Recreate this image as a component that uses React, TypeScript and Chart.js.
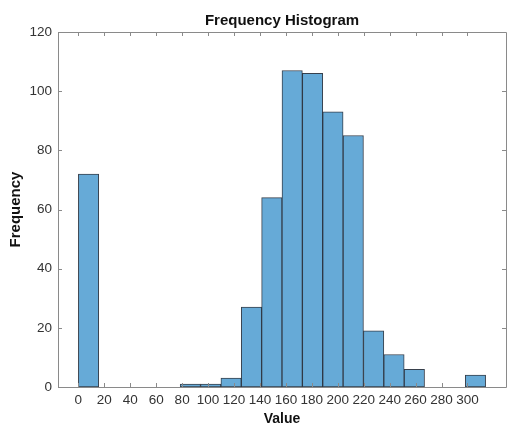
import React, { useEffect, useRef } from "react";
import { Chart, registerables } from "chart.js";

Chart.register(...registerables);

const binWidth = 15.7;
const binStarts = [0, 15.7, 31.4, 47.1, 62.8, 78.5, 94.2, 109.9, 125.6, 141.3, 157, 172.7, 188.4, 204.1, 219.8, 235.5, 251.2, 266.9, 282.6, 298.3];
const counts = [72, 0, 0, 0, 0, 1, 1, 3, 27, 64, 107, 106, 93, 85, 19, 11, 6, 0, 0, 4];
const xTicks = [0, 20, 40, 60, 80, 100, 120, 140, 160, 180, 200, 220, 240, 260, 280, 300];
const yTicks = [0, 20, 40, 60, 80, 100, 120];

const titleText = "Frequency Histogram";
const xLabel = "Value";
const yLabel = "Frequency";

const FONT = "'Liberation Sans', Arial, Helvetica, sans-serif";
const AXIS_COLOR = "#8a8a8a";
const TEXT_COLOR = "#333333";

const boxPlugin = {
  id: "matlabBox",
  afterDraw(chart: any) {
    const { ctx, chartArea } = chart;
    const { left, right, top, bottom } = chartArea;
    const xs = chart.scales.x;
    const ys = chart.scales.y;
    ctx.save();
    ctx.strokeStyle = AXIS_COLOR;
    ctx.lineWidth = 1;
    ctx.beginPath();
    ctx.rect(Math.round(left) + 0.5, Math.round(top) + 0.5, Math.round(right - left), Math.round(bottom - top));
    ctx.stroke();
    const tl = 4;
    ctx.beginPath();
    for (const v of xTicks) {
      const px = Math.round(xs.getPixelForValue(v)) + 0.5;
      ctx.moveTo(px, bottom);
      ctx.lineTo(px, bottom - tl);
      ctx.moveTo(px, top);
      ctx.lineTo(px, top + tl);
    }
    for (const v of yTicks) {
      const py = Math.round(ys.getPixelForValue(v)) + 0.5;
      ctx.moveTo(left, py);
      ctx.lineTo(left + tl, py);
      ctx.moveTo(right, py);
      ctx.lineTo(right - tl, py);
    }
    ctx.stroke();

    ctx.fillStyle = "#111111";
    ctx.textAlign = "center";
    ctx.textBaseline = "middle";
    const cx = (left + right) / 2;
    ctx.font = `bold 15px ${FONT}`;
    ctx.fillText(titleText, cx, 21);
    ctx.font = `bold 14px ${FONT}`;
    ctx.fillText(xLabel, cx, 419);
    ctx.save();
    ctx.font = `bold 15px ${FONT}`;
    ctx.translate(16, (top + bottom) / 2);
    ctx.rotate(-Math.PI / 2);
    ctx.fillText(yLabel, 0, 0);
    ctx.restore();
    ctx.restore();
  },
};

export default function App() {
  const ref = useRef<HTMLCanvasElement | null>(null);
  useEffect(() => {
    if (!ref.current) return;
    const data = binStarts.map((s, i) => ({ x: s + binWidth / 2, y: counts[i] === 0 ? null : counts[i] }));
    const chart = new Chart(ref.current, {
      type: "bar",
      data: {
        datasets: [
          {
            data: data as any,
            backgroundColor: "#66aad7",
            borderColor: "rgba(20,30,45,0.85)",
            borderWidth: 1,
            borderSkipped: false,
            barPercentage: 1,
            categoryPercentage: 1,
          },
        ],
      },
      options: {
        animation: false,
        responsive: false,
        devicePixelRatio: 1,
        layout: { padding: { top: 32, right: 4, left: 0, bottom: 0 } },
        plugins: { legend: { display: false }, title: { display: false }, tooltip: { enabled: false } },
        scales: {
          x: {
            type: "linear",
            offset: false,
            min: -binWidth,
            max: 314 + binWidth,
            grid: { display: false, drawTicks: false, offset: false },
            border: { display: false },
            afterBuildTicks: (s: any) => {
              s.ticks = xTicks.map((v) => ({ value: v }));
            },
            afterFit: (s: any) => {
              s.height = 42;
            },
            ticks: {
              autoSkip: false,
              maxRotation: 0,
              padding: 5,
              color: TEXT_COLOR,
              font: { family: FONT, size: 13.5 },
              includeBounds: false,
            },
          },
          y: {
            min: 0,
            max: 120,
            grid: { display: false, drawTicks: false },
            border: { display: false },
            afterBuildTicks: (s: any) => {
              s.ticks = yTicks.map((v) => ({ value: v }));
            },
            afterFit: (s: any) => {
              s.width = 58;
            },
            ticks: {
              padding: 6,
              color: TEXT_COLOR,
              font: { family: FONT, size: 13.5 },
            },
          },
        },
      },
      plugins: [boxPlugin],
    });
    return () => chart.destroy();
  }, []);
  return (
    <div style={{ position: "absolute", left: 0, top: 0, width: 510, height: 429, background: "#fff" }}>
      <canvas ref={ref} width={510} height={429} />
    </div>
  );
}
